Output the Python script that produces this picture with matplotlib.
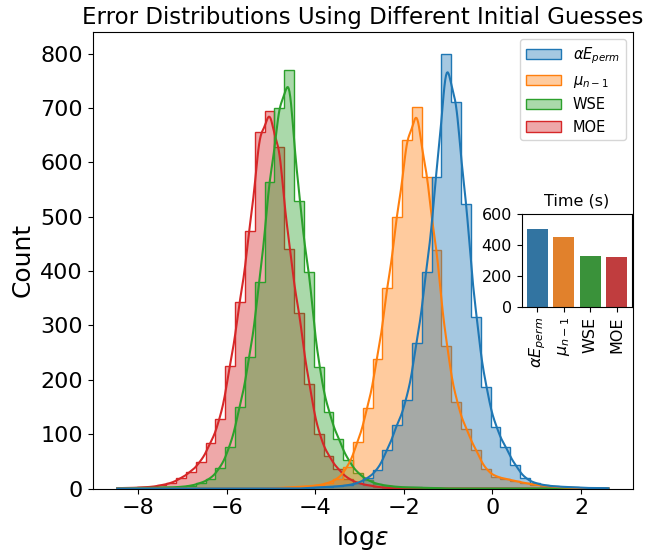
"""Error distributions for four initial guesses, with a timing inset."""

import matplotlib

matplotlib.use("Agg")

import matplotlib.pyplot as plt
import numpy as np
from matplotlib.colors import to_rgba
from matplotlib.patches import Patch

# shared histogram grid (log error)
BIN_LO, BIN_HI, N_BINS = -8.47, 2.62, 50
KDE_BW = 0.12  # smoothing bandwidth for the density lines

labels = [r"$\alpha E_{perm}$", r"$\mu_{n-1}$", "WSE", "MOE"]
colors = ["tab:blue", "tab:orange", "tab:green", "tab:red"]

# counts per bin (bin 0 .. 49)
counts_aeperm = [0, 0, 0, 0, 0, 0, 0, 0, 0, 0,
                 0, 0, 0, 0, 0, 0, 0, 0, 0, 1,
                 2, 3, 4, 6, 10, 19, 34, 71, 117, 163,
                 267, 399, 573, 800, 711, 524, 316, 187, 114, 77,
                 43, 19, 10, 6, 4, 3, 2, 1, 1, 1]
counts_mu = [0, 0, 0, 0, 0, 0, 0, 0, 0, 0,
             0, 0, 0, 0, 0, 1, 1, 2, 3, 4,
             6, 10, 18, 40, 85, 148, 239, 368, 500, 642,
             702, 574, 438, 262, 160, 110, 71, 35, 22, 18,
             14, 10, 7, 5, 3, 2, 1, 1, 0, 0]
counts_wse = [0, 1, 1, 1, 2, 2, 3, 5, 10, 18,
              38, 77, 150, 242, 380, 564, 700, 770, 529, 399,
              224, 141, 92, 52, 28, 15, 8, 5, 3, 2,
              2, 1, 1, 0, 0, 0, 0, 0, 0, 0,
              0, 0, 0, 0, 0, 0, 0, 0, 0, 0]
counts_moe = [1, 1, 2, 3, 6, 10, 19, 31, 49, 83,
              127, 225, 343, 474, 655, 694, 628, 441, 322, 193,
              100, 60, 35, 18, 10, 6, 3, 1, 0, 0,
              0, 0, 0, 0, 0, 0, 0, 0, 0, 0,
              0, 0, 0, 0, 0, 0, 0, 0, 0, 0]

# inset: run time per method
time_labels = [r"$\alpha E_{perm}$", r"$\mu_{n-1}$", "WSE", "MOE"]
time_values = [501, 453, 328, 324]
time_colors = ["#3274a1", "#e1812c", "#3a923a", "#c03d3e"]


def smooth_curve(counts, edges, grid, bw=KDE_BW):
    """Gaussian KDE of the binned sample, scaled to counts."""
    counts = np.asarray(counts, dtype=float)
    width = edges[1] - edges[0]
    centers = 0.5 * (edges[:-1] + edges[1:])
    z = (grid[None, :] - centers[:, None]) / bw
    dens = np.exp(-0.5 * z**2) / (bw * np.sqrt(2 * np.pi))
    return (counts[:, None] * dens).sum(axis=0) * width


edges = np.linspace(BIN_LO, BIN_HI, N_BINS + 1)
grid = np.linspace(BIN_LO, BIN_HI, 600)
series = [counts_aeperm, counts_mu, counts_wse, counts_moe]

fig, ax = plt.subplots(figsize=(6.5, 5.54), dpi=100)
fig.subplots_adjust(left=0.1426, right=0.9738, bottom=0.1182, top=0.9424)

# draw last series first so the first one ends up on top
for counts, color in reversed(list(zip(series, colors))):
    ax.stairs(counts, edges, fill=True, facecolor=to_rgba(color, 0.4),
              edgecolor=color, linewidth=1.0)
for counts, color in reversed(list(zip(series, colors))):
    ax.plot(grid, smooth_curve(counts, edges, grid), color=color, lw=1.5)

ax.margins(x=0.05, y=0.05)
ax.set_ylim(bottom=0)
ax.set_xticks([-8, -6, -4, -2, 0, 2])
ax.tick_params(labelsize=16)
ax.set_xlabel(r"log$\epsilon$", fontsize=18)
ax.set_ylabel("Count", fontsize=18)
ax.set_title("Error Distributions Using Different Initial Guesses",
             fontsize=16.5)

handles = [Patch(facecolor=to_rgba(c, 0.4), edgecolor=c, label=l)
           for c, l in zip(colors, labels)]
ax.legend(handles=handles, loc="upper right", fontsize=10.5,
          handlelength=2.4)

inset = ax.inset_axes([0.794, 0.398, 0.2047, 0.203])
pos = np.arange(len(time_values))
inset.bar(pos, time_values, color=time_colors, width=0.8)
inset.set_xticks(pos, time_labels, rotation=90)
inset.set_ylim(0, 600)
inset.set_yticks([0, 200, 400, 600])
inset.set_title("Time (s)", fontsize=11.5)
inset.tick_params(labelsize=11.5)

fig.savefig("out.png", dpi=100)
plt.close(fig)
